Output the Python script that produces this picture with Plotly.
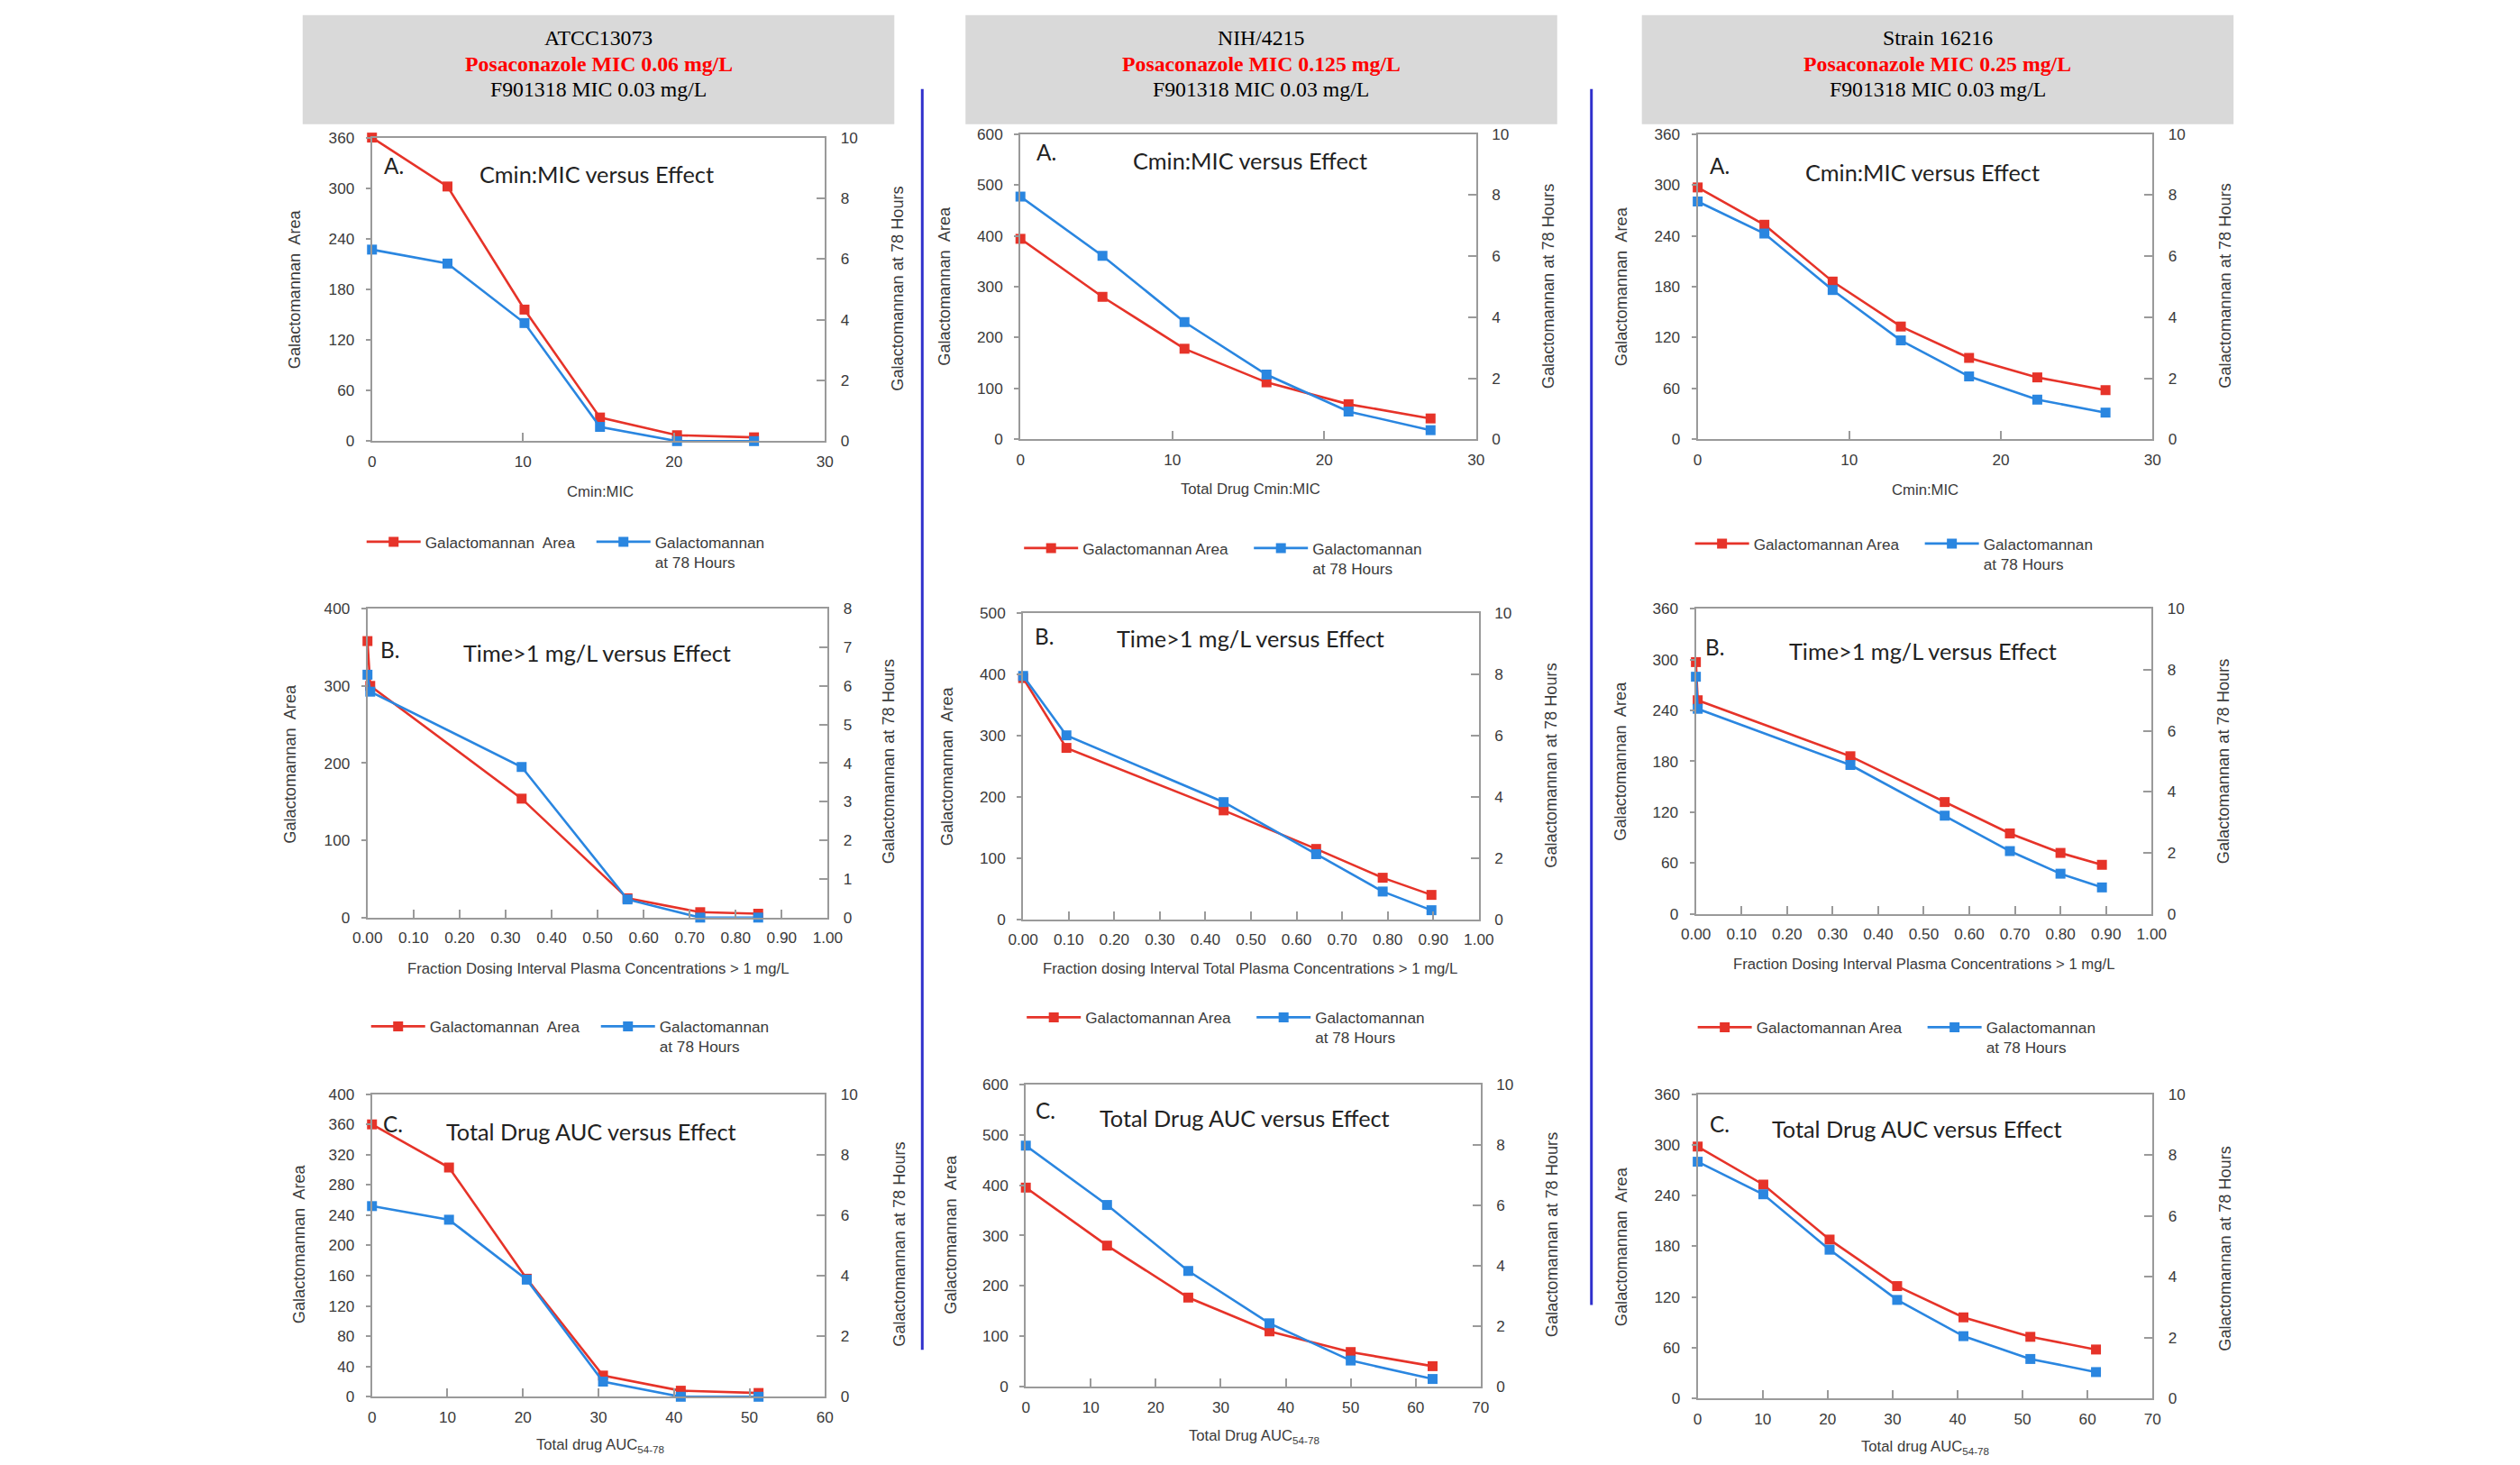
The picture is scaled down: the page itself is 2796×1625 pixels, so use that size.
import plotly.graph_objects as go

W, H = 2796, 1625
BODY = 8  # default page margin around the plot div
FW, FH = W - 2 * BODY, H - 2 * BODY
# the photographed page appears uniformly scaled about its centre; compensate
S = 0.9885
CX, CY = W / 2, H / 2

# ---------------- data ----------------
strain_names = ["ATCC13073", "NIH/4215", "Strain 16216"]
posa_mic = ["Posaconazole MIC 0.06 mg/L", "Posaconazole MIC 0.125 mg/L", "Posaconazole MIC 0.25 mg/L"]
f9_mic = ["F901318 MIC 0.03 mg/L", "F901318 MIC 0.03 mg/L", "F901318 MIC 0.03 mg/L"]

area_names = ["Galactomannan  Area", "Galactomannan Area", "Galactomannan Area"]
gm_name = "Galactomannan<br>at 78 Hours"

c1a_x = [0, 5, 10.1, 15.1, 20.2, 25.3]
c1a_area = [360, 302, 156, 28, 7, 4.5]
c1a_gm = [6.31, 5.85, 3.89, 0.47, 0.0, 0.0]

c1b_x = [0.0, 0.006, 0.335, 0.565, 0.723, 0.849]
c1b_area = [358, 300, 154, 25, 7, 5]
c1b_gm = [6.29, 5.85, 3.90, 0.47, 0.0, 0.0]

c1c_x = [0, 10.2, 20.5, 30.6, 40.9, 51.2]
c1c_area = [360, 303, 156, 28, 8, 5]
c1c_gm = [6.30, 5.85, 3.87, 0.50, 0.0, 0.0]

c2a_x = [0, 5.4, 10.8, 16.2, 21.6, 27.0]
c2a_area = [394, 280, 178, 112, 69, 41]
c2a_gm = [7.95, 6.01, 3.84, 2.12, 0.91, 0.30]

c2b_x = [0, 0.095, 0.44, 0.643, 0.789, 0.896]
c2b_area = [394, 280, 178, 115, 68, 40]
c2b_gm = [7.95, 6.01, 3.83, 2.13, 0.91, 0.30]

c2c_x = [0, 12.5, 25.0, 37.5, 50.0, 62.6]
c2c_area = [395, 280, 177, 110, 69, 41]
c2c_gm = [7.97, 6.01, 3.83, 2.10, 0.87, 0.26]

c3a_x = [0, 4.4, 8.9, 13.4, 17.9, 22.4, 26.9]
c3a_area = [297, 253, 186, 133, 96, 73, 58]
c3a_gm = [7.79, 6.74, 4.89, 3.24, 2.06, 1.30, 0.875]

c3b_x = [0, 0.004, 0.339, 0.546, 0.689, 0.80, 0.891]
c3b_area = [297, 252, 186, 132, 95, 72, 58]
c3b_gm = [7.77, 6.72, 4.88, 3.22, 2.06, 1.32, 0.87]

c3c_x = [0, 10.1, 20.3, 30.7, 40.9, 51.2, 61.3]
c3c_area = [298, 253, 188, 133, 96, 73, 58]
c3c_gm = [7.78, 6.71, 4.89, 3.24, 2.05, 1.30, 0.87]

# ---------------- styling / layout specs ----------------
RED = "#e63329"
BLUE = "#2a86e0"
AXIS_GRAY = "#9a9a9a"
TXT = "#3a3a3a"

panels = [
    dict(col=0, x=c1a_x, a=c1a_area, g=c1a_gm, xr=[0, 30], xd=10, lr=[0, 360], ld=60, rr=[0, 10], rd=2,
         box=(412, 915, 152, 489), letter="A.", title="Cmin:MIC versus Effect", xt="Cmin:MIC",
         let_xy=(436, 183), tit_xy=(661, 192), xt_xy=(665, 545), lt_xy=(327, 320), rt_xy=(996, 320),
         leg=(405, 600)),
    dict(col=0, x=c1b_x, a=c1b_area, g=c1b_gm, xr=[0, 1], xd=0.1, lr=[0, 400], ld=100, rr=[0, 8], rd=1,
         box=(407, 918, 675, 1018), letter="B.", title="Time>1 mg/L versus Effect",
         xt="Fraction Dosing Interval Plasma Concentrations > 1 mg/L",
         let_xy=(432, 720), tit_xy=(662, 724), xt_xy=(663, 1075), lt_xy=(321, 847), rt_xy=(986, 845),
         leg=(410, 1138)),
    dict(col=0, x=c1c_x, a=c1c_area, g=c1c_gm, xr=[0, 60], xd=10, lr=[0, 400], ld=40, rr=[0, 10], rd=2,
         box=(412, 915, 1214, 1550), letter="C.", title="Total Drug AUC versus Effect",
         xt="Total drug AUC<sub>54-78</sub>",
         let_xy=(435, 1247), tit_xy=(655, 1255), xt_xy=(665, 1604), lt_xy=(332, 1380), rt_xy=(998, 1381),
         leg=None),
    dict(col=1, x=c2a_x, a=c2a_area, g=c2a_gm, xr=[0, 30], xd=10, lr=[0, 600], ld=100, rr=[0, 10], rd=2,
         box=(1132, 1638, 148, 487), letter="A.", title="Cmin:MIC versus Effect", xt="Total Drug Cmin:MIC",
         let_xy=(1161, 168), tit_xy=(1387, 177), xt_xy=(1387, 542), lt_xy=(1048, 317), rt_xy=(1719, 317),
         leg=(1135, 607)),
    dict(col=1, x=c2b_x, a=c2b_area, g=c2b_gm, xr=[0, 1], xd=0.1, lr=[0, 500], ld=100, rr=[0, 10], rd=2,
         box=(1135, 1641, 680, 1020), letter="B.", title="Time>1 mg/L versus Effect",
         xt="Fraction dosing Interval Total Plasma Concentrations > 1 mg/L",
         let_xy=(1158, 705), tit_xy=(1387, 708), xt_xy=(1387, 1075), lt_xy=(1051, 850), rt_xy=(1721, 849),
         leg=(1138, 1128)),
    dict(col=1, x=c2c_x, a=c2c_area, g=c2c_gm, xr=[0, 70], xd=10, lr=[0, 600], ld=100, rr=[0, 10], rd=2,
         box=(1138, 1643, 1203, 1539), letter="C.", title="Total Drug AUC versus Effect",
         xt="Total Drug AUC<sub>54-78</sub>",
         let_xy=(1160, 1232), tit_xy=(1381, 1240), xt_xy=(1391, 1594), lt_xy=(1055, 1370), rt_xy=(1723, 1370),
         leg=None),
    dict(col=2, x=c3a_x, a=c3a_area, g=c3a_gm, xr=[0, 30], xd=10, lr=[0, 360], ld=60, rr=[0, 10], rd=2,
         box=(1884, 2389, 148, 487), letter="A.", title="Cmin:MIC versus Effect", xt="Cmin:MIC",
         let_xy=(1908, 183), tit_xy=(2134, 190), xt_xy=(2137, 543), lt_xy=(1800, 317), rt_xy=(2470, 317),
         leg=(1880, 602)),
    dict(col=2, x=c3b_x, a=c3b_area, g=c3b_gm, xr=[0, 1], xd=0.1, lr=[0, 360], ld=60, rr=[0, 10], rd=2,
         box=(1882, 2388, 675, 1014), letter="B.", title="Time>1 mg/L versus Effect",
         xt="Fraction Dosing Interval Plasma Concentrations > 1 mg/L",
         let_xy=(1903, 717), tit_xy=(2134, 722), xt_xy=(2135, 1070), lt_xy=(1798, 844), rt_xy=(2468, 845),
         leg=(1883, 1139)),
    dict(col=2, x=c3c_x, a=c3c_area, g=c3c_gm, xr=[0, 70], xd=10, lr=[0, 360], ld=60, rr=[0, 10], rd=2,
         box=(1884, 2389, 1214, 1552), letter="C.", title="Total Drug AUC versus Effect",
         xt="Total drug AUC<sub>54-78</sub>",
         let_xy=(1908, 1247), tit_xy=(2128, 1252), xt_xy=(2137, 1606), lt_xy=(1800, 1383), rt_xy=(2470, 1386),
         leg=None),
]

header_boxes = [(335, 992), (1071, 1728), (1822, 2479)]
header_y = (16, 137)
header_line_y = [41.5, 70, 98]
dividers = [(1023, 98, 1498), (1766, 98, 1448)]


def px(x):
    page = CX + (x - CX) / S
    return (page - BODY) / FW


def py(y):
    page = CY + (y - CY) / S
    return 1 - (page - BODY) / FH


def fs(size):
    return size / S


fig = go.Figure()
layout = {}
annotations = []
shapes = []

tickfont = dict(family="Liberation Sans, Arial, sans-serif", size=fs(17), color=TXT)
legend_count = 0

for i, p in enumerate(panels, start=1):
    xs = "" if i == 1 else str(i)
    yl = "" if i == 1 else str(i)
    yr = str(i + 9)
    x0, x1, yt, yb = p["box"]

    leg_name = None
    if p["leg"] is not None:
        legend_count += 1
        leg_name = "legend" if legend_count == 1 else f"legend{legend_count}"
        lx, ly = p["leg"]
        layout[leg_name] = dict(
            x=px(lx - 4), y=py(ly - 17), xanchor="left", yanchor="top",
            orientation="h", valign="top", itemwidth=60,
            entrywidth=180, entrywidthmode="pixels",
            font=dict(family="Liberation Sans, Arial, sans-serif", size=fs(17), color=TXT),
            bgcolor="rgba(0,0,0,0)", borderwidth=0, tracegroupgap=0,
        )

    fig.add_trace(go.Scatter(
        x=p["x"], y=p["a"], mode="lines+markers", name=area_names[p["col"]],
        line=dict(color=RED, width=2.6), marker=dict(symbol="square", size=11, color=RED),
        xaxis="x" + xs, yaxis="y" + yl, cliponaxis=False,
        showlegend=leg_name is not None, legend=leg_name if leg_name else "legend",
    ))
    fig.add_trace(go.Scatter(
        x=p["x"], y=p["g"], mode="lines+markers", name=gm_name,
        line=dict(color=BLUE, width=2.6), marker=dict(symbol="square", size=11, color=BLUE),
        xaxis="x" + xs, yaxis="y" + yr, cliponaxis=False,
        showlegend=leg_name is not None, legend=leg_name if leg_name else "legend",
    ))

    is_frac = p["xd"] < 1
    layout["xaxis" + xs] = dict(
        domain=[px(x0), px(x1)], anchor="y" + yl, range=p["xr"], dtick=p["xd"], tick0=0,
        tickformat=".2f" if is_frac else "d",
        showline=True, linecolor=AXIS_GRAY, linewidth=2, mirror=True,
        ticks="inside", ticklen=9, tickwidth=1.5, tickcolor=AXIS_GRAY,
        showgrid=False, zeroline=False, tickfont=tickfont, ticklabelstandoff=6,
    )
    layout["yaxis" + yl] = dict(
        domain=[py(yb), py(yt)], anchor="x" + xs, range=p["lr"], dtick=p["ld"], tick0=0,
        showline=True, linecolor=AXIS_GRAY, linewidth=2,
        ticks="outside", ticklen=5, tickwidth=1.5, tickcolor=AXIS_GRAY,
        showgrid=False, zeroline=False, tickfont=tickfont, ticklabelstandoff=9,
    )
    layout["yaxis" + yr] = dict(
        overlaying="y" + yl, anchor="x" + xs, side="right", range=p["rr"], dtick=p["rd"], tick0=0,
        showline=True, linecolor=AXIS_GRAY, linewidth=2,
        ticks="inside", ticklen=9, tickwidth=1.5, tickcolor=AXIS_GRAY,
        showgrid=False, zeroline=False, tickfont=tickfont, ticklabelstandoff=12,
    )

    annotations.append(dict(text=p["letter"], x=px(p["let_xy"][0]), y=py(p["let_xy"][1]),
                            xref="paper", yref="paper", showarrow=False, xanchor="center", yanchor="middle",
                            font=dict(family="Lato, Open Sans, sans-serif", size=fs(24), color="#222")))
    annotations.append(dict(text=p["title"], x=px(p["tit_xy"][0]), y=py(p["tit_xy"][1]),
                            xref="paper", yref="paper", showarrow=False, xanchor="center", yanchor="middle",
                            font=dict(family="Lato, Open Sans, sans-serif", size=fs(25), color="#222")))
    annotations.append(dict(text=p["xt"], x=px(p["xt_xy"][0]), y=py(p["xt_xy"][1]),
                            xref="paper", yref="paper", showarrow=False, xanchor="center", yanchor="middle",
                            font=dict(family="Liberation Sans, Arial, sans-serif", size=fs(16.5), color=TXT)))
    annotations.append(dict(text="Galactomannan  Area", x=px(p["lt_xy"][0]), y=py(p["lt_xy"][1]),
                            xref="paper", yref="paper", showarrow=False, textangle=-90,
                            xanchor="center", yanchor="middle",
                            font=dict(family="Liberation Sans, Arial, sans-serif", size=fs(18), color=TXT)))
    annotations.append(dict(text="Galactomannan at 78 Hours", x=px(p["rt_xy"][0]), y=py(p["rt_xy"][1]),
                            xref="paper", yref="paper", showarrow=False, textangle=-90,
                            xanchor="center", yanchor="middle",
                            font=dict(family="Liberation Sans, Arial, sans-serif", size=fs(18), color=TXT)))

for k, (hx0, hx1) in enumerate(header_boxes):
    shapes.append(dict(type="rect", xref="paper", yref="paper", x0=px(hx0), x1=px(hx1),
                       y0=py(header_y[1]), y1=py(header_y[0]), fillcolor="#d9d9d9", line=dict(width=0),
                       layer="below"))
    lines = [strain_names[k], f"<b>{posa_mic[k]}</b>", f9_mic[k]]
    colors = ["#000000", "#ff0000", "#000000"]
    for t, c, ly in zip(lines, colors, header_line_y):
        annotations.append(dict(text=t, x=px((hx0 + hx1) / 2), y=py(ly),
                                xref="paper", yref="paper", showarrow=False,
                                xanchor="center", yanchor="middle",
                                font=dict(family="Liberation Serif, Times New Roman, serif",
                                          size=fs(23.5), color=c)))

for (dx, dy0, dy1) in dividers:
    shapes.append(dict(type="line", xref="paper", yref="paper", x0=px(dx), x1=px(dx),
                       y0=py(dy1), y1=py(dy0), line=dict(color="#3030cc", width=3)))

layout.update(dict(
    width=FW, height=FH, margin=dict(l=0, r=0, t=0, b=0),
    paper_bgcolor="white", plot_bgcolor="white",
    annotations=annotations, shapes=shapes,
))
fig.update_layout(**layout)

fig.write_html("out.html")
